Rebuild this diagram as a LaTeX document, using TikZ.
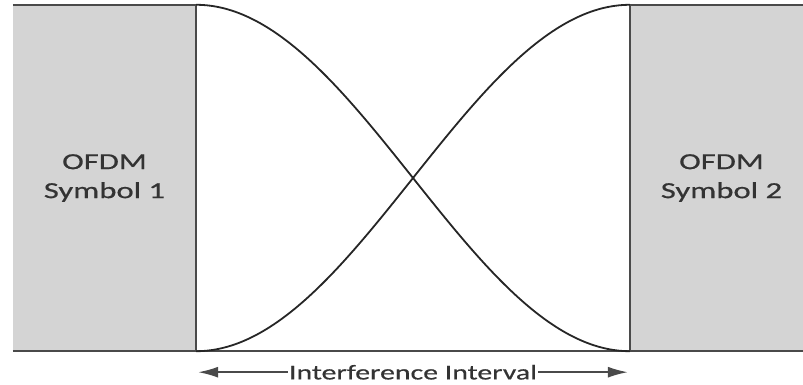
\documentclass[tikz,border=0pt]{standalone}
\usepackage{fontspec}
\setmainfont[FakeStretch=1.42, FakeBold=0.6]{Carlito}
\usetikzlibrary{arrows.meta}
\definecolor{symgray}{HTML}{D4D4D4}
\definecolor{edgegray}{HTML}{4A4A4A}
\definecolor{textgray}{HTML}{333333}
\tikzset{
  symbox/.style={fill=symgray, inner sep=0pt, minimum width=183pt, minimum height=346pt,
                 align=center, font=\fontsize{23}{29}\selectfont, text=textgray},
  edge/.style={draw=edgegray, line width=2pt},
  pulse/.style={draw=black!85, line width=1.8pt},
  span/.style={draw=edgegray, line width=1.6pt, {Latex[length=20pt,width=11pt]}-{Latex[length=20pt,width=11pt]}},
}
\begin{document}
\begin{tikzpicture}[x=1pt, y=1pt]
  \useasboundingbox (0,0) rectangle (803,385);
  % the two symbols
  \node[symbox] (sym1) at (104.5,207) {OFDM\\Symbol 1};
  \node[symbox] (sym2) at (721.5,207) {OFDM\\Symbol 2};
  % their edges and the time axis
  \draw[edge] (sym1.north west) -- (sym1.north east) -- (sym1.south east);
  \draw[edge] (sym2.south west) -- (sym2.north west) -- (sym2.north east);
  \draw[edge] (sym1.south west) -- (sym2.south east);
  % the two raised cosine windows
  \draw[pulse] (sym1.north east) .. controls +(157.5,0) and +(-157.5,0) .. (sym2.south west);
  \draw[pulse] (sym1.south east) .. controls +(157.5,0) and +(-157.5,0) .. (sym2.north west);
  % the interval below
  \path (sym1.south east) ++(2,-21) coordinate (ileft);
  \path (sym2.south west) ++(-2,-21) coordinate (iright);
  \draw[span] (ileft) -- node[fill=white, inner sep=1pt, text=textgray,
    font=\fontsize{21}{25}\selectfont] (ilabel) {Interference Interval} (iright);
\end{tikzpicture}
\end{document}
